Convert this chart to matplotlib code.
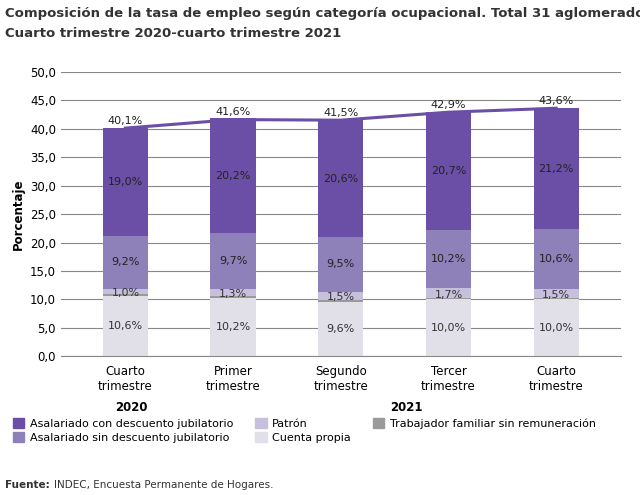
import matplotlib
matplotlib.use("Agg")
import matplotlib.pyplot as plt
import numpy as np
from matplotlib.patches import Patch

categories = ["Cuarto\ntrimestre", "Primer\ntrimestre", "Segundo\ntrimestre", "Tercer\ntrimestre", "Cuarto\ntrimestre"]
cuenta_propia = [10.6, 10.2, 9.6, 10.0, 10.0]
familiar = [0.3, 0.4, 0.3, 0.3, 0.3]
patron = [1.0, 1.3, 1.5, 1.7, 1.5]
sin_desc = [9.2, 9.7, 9.5, 10.2, 10.6]
con_desc = [19.0, 20.2, 20.6, 20.7, 21.2]
total = [40.1, 41.6, 41.5, 42.9, 43.6]

c_con = "#6b4fa6"
c_sin = "#8e80b8"
c_pat = "#c7c0dd"
c_fam = "#9a9a9a"
c_cp = "#e1dfe8"

fig = plt.figure(figsize=(6.4, 4.95), dpi=100)
ax = fig.add_axes([0.095, 0.28, 0.875, 0.575])
x = np.arange(len(categories))
w = 0.42
bottom = np.zeros(5)
layers = [(cuenta_propia, c_cp), (familiar, c_fam), (patron, c_pat), (sin_desc, c_sin), (con_desc, c_con)]
for vals, col in layers:
    ax.bar(x, vals, w, bottom=bottom, color=col, zorder=2)
    bottom += np.array(vals)
bc = np.array(cuenta_propia); bf = np.array(familiar); bp = np.array(patron); bs = np.array(sin_desc); bcd = np.array(con_desc)
for i in range(5):
    ax.text(x[i], bc[i]/2, f"{cuenta_propia[i]:.1f}%".replace(".", ","), ha="center", va="center", fontsize=8, color="#333", zorder=4)
    ax.text(x[i], bc[i]+bf[i]+bp[i]/2 - 0.3, f"{patron[i]:.1f}%".replace(".", ","), ha="center", va="center", fontsize=8, color="#333", zorder=4)
    s0 = bc[i]+bf[i]+bp[i]
    ax.text(x[i], s0+bs[i]/2, f"{sin_desc[i]:.1f}%".replace(".", ","), ha="center", va="center", fontsize=8, color="#222", zorder=4)
    s1 = s0+bs[i]
    ax.text(x[i], s1+bcd[i]/2, f"{con_desc[i]:.1f}%".replace(".", ","), ha="center", va="center", fontsize=8, color="#222", zorder=4)
    ax.text(x[i], total[i]+1.3, f"{total[i]:.1f}%".replace(".", ","), ha="center", va="center", fontsize=8, color="#222", zorder=4)
ax.plot(x, total, color=c_con, lw=2.2, zorder=3)
ax.set_ylim(0, 50)
ax.set_xlim(-0.6, 4.6)
ax.set_yticks(np.arange(0, 50.1, 5))
ax.set_yticklabels([f"{v:.1f}".replace(".", ",") for v in np.arange(0, 50.1, 5)], fontsize=8.5)
ax.set_xticks(x)
ax.set_xticklabels(categories, fontsize=8.5)
ax.grid(axis="y", color="#888", lw=0.8, zorder=1)
ax.set_axisbelow(True)
for s in ["top", "right", "left"]:
    ax.spines[s].set_visible(False)
ax.spines["bottom"].set_color("#888")
ax.tick_params(axis="y", length=0)
ax.tick_params(axis="x", length=0, pad=6)
ax.set_ylabel("Porcentaje", fontsize=8.5, fontweight="bold")
fig.text(0.205, 0.17, "2020", fontsize=8.5, fontweight="bold", ha="center")
fig.text(0.635, 0.17, "2021", fontsize=8.5, fontweight="bold", ha="center")
tf = ["Liberation Sans Narrow", "DejaVu Sans"]
fig.text(0.008, 0.965, "Composición de la tasa de empleo según categoría ocupacional. Total 31 aglomerados urbanos.", fontsize=9.5, fontweight="bold", color="#333", family=tf)
fig.text(0.008, 0.925, "Cuarto trimestre 2020-cuarto trimestre 2021", fontsize=9.5, fontweight="bold", color="#333", family=tf)
handles = [Patch(color=c_con, label="Asalariado con descuento jubilatorio"),
           Patch(color=c_sin, label="Asalariado sin descuento jubilatorio"),
           Patch(color=c_pat, label="Patrón"),
           Patch(color=c_cp, label="Cuenta propia"),
           Patch(color=c_fam, label="Trabajador familiar sin remuneración")]
fig.legend(handles=handles, loc="lower left", bbox_to_anchor=(0.005, 0.085), ncol=3, fontsize=8, frameon=False,
           handlelength=1.0, handleheight=1.0, columnspacing=2.0, labelspacing=0.3, handletextpad=0.5)
fig.text(0.008, 0.015, "Fuente:", fontsize=7.5, fontweight="bold", color="#333")
fig.text(0.085, 0.015, "INDEC, Encuesta Permanente de Hogares.", fontsize=7.5, color="#333")
fig.savefig("out.png", dpi=100)
